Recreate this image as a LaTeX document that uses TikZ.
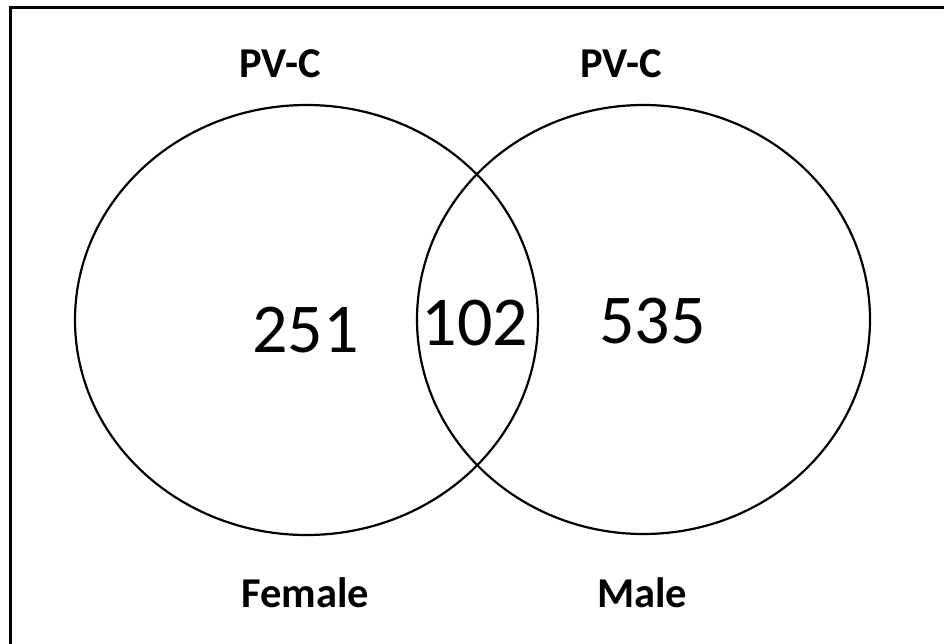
\documentclass[tikz,border=0pt]{standalone}
\usepackage{fontspec}
\setmainfont{Carlito}
\usetikzlibrary{shapes.geometric}
\tikzset{
  setline/.style={line width=2.2pt, draw=black},
  framelne/.style={line width=3pt, draw=black},
  lbl/.style={font=\fontsize{42.5}{46}\selectfont\bfseries, anchor=base, inner sep=0pt},
  num/.style={font=\fontsize{70}{80}\selectfont, anchor=base, inner sep=0pt}
}
\begin{document}
\begin{tikzpicture}[x=1pt,y=-1pt]
\useasboundingbox (0,0) rectangle (944,643);
\fill[white] (0,0) rectangle (944,643);
\coordinate (fbl) at (10,645);
\coordinate (ftl) at (10,7);
\coordinate (ftr) at (946,7);
\draw[framelne] (fbl) -- (ftl) -- (ftr);
\draw[setline] (306.5,320) ellipse [x radius=231.5, y radius=215];
\draw[setline] (643.5,319.5) ellipse [x radius=226.5, y radius=214.5];
\node[lbl] (pvl) at (280,77) {PV-C};
\node[lbl] (pvr) at (621,77) {PV-C};
\node[lbl] (fem) at (305,607) {Female};
\node[lbl] (mal) at (642,607) {Male};
\node[num] (nl) at (305.5,352) {251};
\node[num] (nm) at (475,345) {102};
\node[num] (nr) at (652.5,343) {535};
\end{tikzpicture}
\end{document}
